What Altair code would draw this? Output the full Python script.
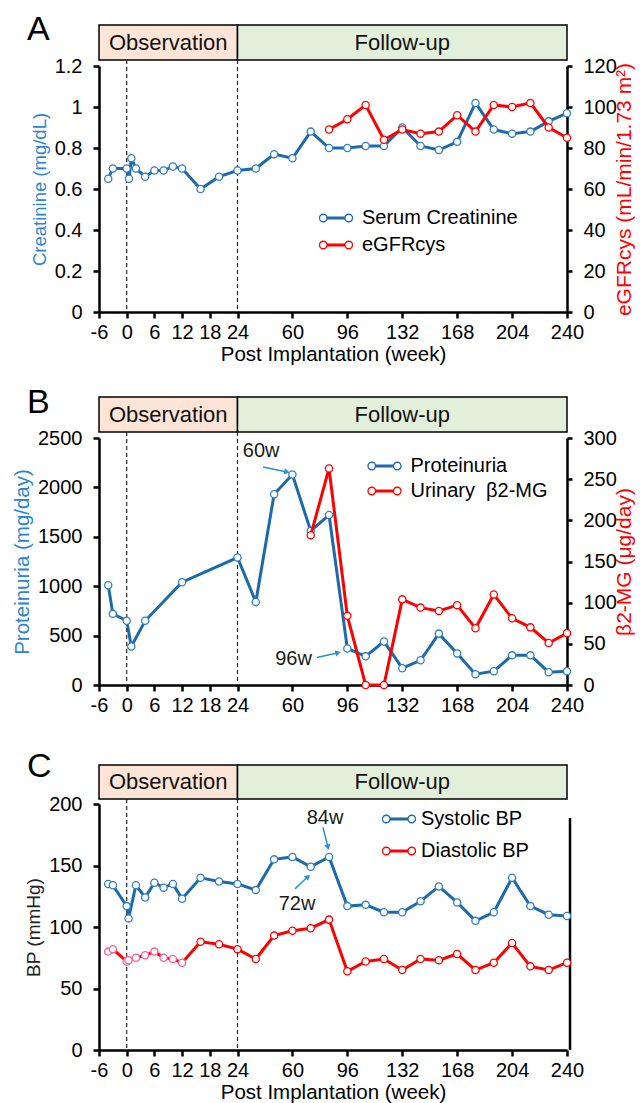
import altair as alt
import pandas as pd

# ---------------- data ----------------
wk_creat = [-4, -3, 0, 0.5, 1, 2, 4, 6, 8, 10, 12, 16, 20, 24,
            36, 48, 60, 72, 84, 96, 108, 120, 132, 144, 156, 168, 180, 192, 204, 216, 228, 240]
creat = [0.65, 0.70, 0.70, 0.65, 0.75, 0.70, 0.66, 0.69, 0.69, 0.71, 0.70, 0.60, 0.66, 0.69,
         0.70, 0.77, 0.75, 0.88, 0.80, 0.80, 0.81, 0.81, 0.90, 0.81, 0.79, 0.83, 1.02, 0.89,
         0.87, 0.88, 0.93, 0.97]
wk_egfr = [84, 96, 108, 120, 132, 144, 156, 168, 180, 192, 204, 216, 228, 240]
egfr = [89, 94, 101, 84, 89, 87, 88, 96, 88, 101, 100, 102, 90, 85]

wk_prot = [-4, -3, 0, 1, 4, 12, 24,
           36, 48, 60, 72, 84, 96, 108, 120, 132, 144, 156, 168, 180, 192, 204, 216, 228, 240]
prot = [1010, 720, 650, 390, 650, 1040, 1290,
        840, 1930, 2130, 1560, 1720, 370, 290, 440, 170, 250, 520, 320, 110, 140, 300, 300, 130, 140]
wk_b2 = [72, 84, 96, 108, 120, 132, 144, 156, 168, 180, 192, 204, 216, 228, 240]
b2mg = [182, 263, 84, 0, 0, 104, 94, 90, 97, 69, 110, 81, 70, 51, 63]

wk_bp = [-4, -3, 0, 0.4, 2, 4, 6, 8, 10, 12, 16, 20, 24,
         36, 48, 60, 72, 84, 96, 108, 120, 132, 144, 156, 168, 180, 192, 204, 216, 228, 240]
sbp = [135, 134, 117, 107, 134, 124, 136, 132, 135, 123, 140, 137, 135,
       130, 155, 157, 149, 157, 117, 118, 112, 112, 121, 133, 120, 105, 112, 140, 117, 110, 109]
dbp = [80, 82, 72, 73, 75, 77, 80, 75, 74, 71, 88, 86, 82,
       74, 93, 97, 99, 106, 64, 72, 74, 65, 74, 73, 78, 65, 71, 87, 68, 65, 71]

x_ticks = [-6, 0, 6, 12, 18, 24, 60, 96, 132, 168, 204, 240]
phase_names = ["Observation", "Follow-up"]
phase_start = [-6, 24]
phase_end = [24, 240]
phase_fill = ["#fce4d6", "#e2efda"]
marker_weeks = [0, 24]

# annotations (data coordinates)
annB_text = ["60w", "96w"]
annB_tx = [39.5, 60.7]
annB_ty = [2370, 266]
annB_x1 = [40.7, 76.1]
annB_y1 = [2207, 279]
annB_x2 = [56.4, 89.9]
annB_y2 = [2156, 327]
annB_ang = [12, 347]

annC_text = ["84w", "72w"]
annC_tx = [81.4, 63]
annC_ty = [189, 119]
annC_x1 = [80.0, 61.7]
annC_y1 = [181, 131]
annC_x2 = [83.3, 70.2]
annC_y2 = [165, 141]
annC_ang = [76, 317]

# ---------------- style ----------------
FONT = "Liberation Sans"
BLUE = "#1c6aab"
BLUE_MK = "#2f7fc4"
BLUE_TXT = "#2b86cf"
RED = "#ff0000"
PINK = "#ff5c95"
ARROW = "#2b8fd6"
W = 468
XS = alt.Scale(domain=[-6, 24, 240], range=[0, 138.5, W], nice=False, zero=False)
LEG_PATH = ("M -1.27 0 A 0.29 0.29 0 1 1 -0.69 0 A 0.29 0.29 0 1 1 -1.27 0 Z "
            "M 0.69 0 A 0.29 0.29 0 1 1 1.27 0 A 0.29 0.29 0 1 1 0.69 0 Z "
            "M -0.69 -0.07 L 0.69 -0.07 M -0.69 0 L 0.69 0 M -0.69 0.07 L 0.69 0.07")


def x_axis(title):
    kw = dict(values=x_ticks, labelExpr="'' + datum.value", labelFontSize=20, tickSize=6,
              labelPadding=4, labelOverlap=False, labelFlush=False, grid=False,
              domainWidth=2.5, tickWidth=2.5, domainColor="black", tickColor="black",
              labelColor="black", labelFont=FONT)
    if title:
        kw.update(title=title, titleFontSize=20.5, titlePadding=2, titleFontWeight="normal",
                  titleColor="black", titleFont=FONT)
    else:
        kw["title"] = None
    return alt.Axis(**kw)


def y_axis(title, values, orient, tcolor, tsize):
    kw = dict(values=values, labelExpr="'' + datum.value", labelFontSize=20, grid=False,
              domainWidth=2.5, tickWidth=2.5, domainColor="black", tickColor="black",
              labelColor="black", labelFont=FONT, title=title, titleFontSize=tsize,
              titleColor=tcolor, titleFontWeight="normal", titleLimit=600, titleFont=FONT,
              orient=orient)
    if orient == "left":
        kw.update(tickSize=6, labelPadding=11, titlePadding=5)
    else:
        kw.update(tickSize=5, labelPadding=11, titlePadding=-3, titleAngle=270,
                  titleBaseline="top")
    return alt.Axis(**kw)


def legend(lx, ly, rowpad, loff):
    return alt.Legend(orient="none", legendX=lx, legendY=ly, title=None, symbolType=LEG_PATH,
                      symbolSize=676, symbolStrokeWidth=1.3, symbolFillColor="white",
                      labelFontSize=20, labelFont=FONT, labelColor="black", labelOffset=loff,
                      labelLimit=400, rowPadding=rowpad, padding=0)


def sdf(weeks, vals, name, mcolors):
    return pd.DataFrame({"w": weeks, "v": vals, "s": name, "mc": mcolors})


def series(df, ysc, yax, xax, cscale, leg):
    line = alt.Chart(df).mark_line(strokeWidth=3).encode(
        x=alt.X("w:Q", scale=XS, axis=xax),
        y=alt.Y("v:Q", scale=ysc, axis=yax),
        color=alt.Color("s:N", scale=cscale, legend=leg),
    )
    pts = alt.Chart(df).mark_point(shape="circle", filled=True, fill="white", size=52,
                                   strokeWidth=1.3, opacity=1).encode(
        x=alt.X("w:Q", scale=XS, axis=xax),
        y=alt.Y("v:Q", scale=ysc, axis=yax),
        stroke=alt.Stroke("mc:N", scale=None),
    )
    return [line, pts]


def frame(letter, letter_y, hdr_top, hdr_bot, bottom, H, xax):
    hdr = pd.DataFrame({"phase": phase_names, "start": phase_start, "end": phase_end,
                        "fill": phase_fill})
    hdr["mid"] = (hdr["start"] + hdr["end"]) / 2
    spacer = alt.Chart(pd.DataFrame({"k": [0]})).mark_rule(color="white", strokeWidth=1).encode(
        x=alt.value(-90.5), y=alt.value(-57.5), y2=alt.value(bottom))
    rect = alt.Chart(hdr).mark_rect(stroke="black", strokeWidth=1.5).encode(
        x=alt.X("start:Q", scale=XS, axis=xax), x2="end:Q",
        y=alt.value(hdr_top), y2=alt.value(hdr_bot),
        fill=alt.Fill("fill:N", scale=None))
    htxt = alt.Chart(hdr).mark_text(fontSize=22, font=FONT, color="#111").encode(
        x=alt.X("mid:Q", scale=XS, axis=xax), y=alt.value((hdr_top + hdr_bot) / 2),
        text="phase:N")
    let = alt.Chart(pd.DataFrame({"t": [letter]})).mark_text(
        fontSize=34, font=FONT, align="left", baseline="alphabetic", color="black").encode(
        x=alt.value(-72), y=alt.value(letter_y), text="t:N")
    dashes = alt.Chart(pd.DataFrame({"w": marker_weeks})).mark_rule(
        strokeDash=[4, 3], strokeWidth=1.2, color="#222").encode(
        x=alt.X("w:Q", scale=XS, axis=xax), y=alt.value(hdr_bot), y2=alt.value(H))
    return [spacer, rect, htxt, let, dashes]


def annotations(txt, tx, ty, x1, y1, x2, y2, ang, ysc, xax, yax):
    tdf = pd.DataFrame({"t": txt, "tx": tx, "ty": ty})
    adf = pd.DataFrame({"ax": x1, "ay": y1, "bx": x2, "by": y2, "ang": ang})
    t = alt.Chart(tdf).mark_text(fontSize=20, font=FONT, color="#1a1a1a").encode(
        x=alt.X("tx:Q", scale=XS, axis=xax), y=alt.Y("ty:Q", scale=ysc, axis=yax), text="t:N")
    r = alt.Chart(adf).mark_rule(color=ARROW, strokeWidth=1.5).encode(
        x=alt.X("ax:Q", scale=XS, axis=xax), y=alt.Y("ay:Q", scale=ysc, axis=yax),
        x2="bx:Q", y2="by:Q")
    h = alt.Chart(adf).mark_point(shape="triangle-right", filled=True, size=40, color=ARROW,
                                  opacity=1).encode(
        x=alt.X("bx:Q", scale=XS, axis=xax), y=alt.Y("by:Q", scale=ysc, axis=yax),
        angle=alt.Angle("ang:Q", scale=None))
    return [t, r, h]


# ---------------- panel A ----------------
HA = 246
xaxA = x_axis("Post Implantation (week)")
csA = alt.Scale(domain=["Serum Creatinine", "eGFRcys"], range=[BLUE, RED])
legA = legend(223, 138, 3, 12)
ysA1 = alt.Scale(domain=[0, 1.2], nice=False)
ysA2 = alt.Scale(domain=[0, 120], nice=False)
yaxA1 = y_axis("Creatinine (mg/dL)", [0, 0.2, 0.4, 0.6, 0.8, 1, 1.2], "left", BLUE_TXT, 18.5)
yaxA2 = y_axis("eGFRcys (mL/min/1.73 m²)", [0, 20, 40, 60, 80, 100, 120], "right", RED, 21)
leftA = alt.layer(*series(sdf(wk_creat, creat, "Serum Creatinine", [BLUE_MK] * len(creat)),
                          ysA1, yaxA1, xaxA, csA, legA))
rightA = alt.layer(*series(sdf(wk_egfr, egfr, "eGFRcys", [RED] * len(egfr)),
                           ysA2, yaxA2, xaxA, csA, legA))
panelA = alt.layer(*frame("A", -26, -41, -6, 313.5, HA, xaxA), leftA, rightA).resolve_scale(
    y="independent").properties(width=W, height=HA)

# ---------------- panel B ----------------
HB = 247
xaxB = x_axis(None)
csB = alt.Scale(domain=["Proteinuria", "Urinary\u00a0 β2-MG"], range=[BLUE, RED])
legB = legend(271.5, 14, 1, 12)
ysB1 = alt.Scale(domain=[0, 2500], nice=False)
ysB2 = alt.Scale(domain=[0, 300], nice=False)
yaxB1 = y_axis("Proteinuria (mg/day)", [0, 500, 1000, 1500, 2000, 2500], "left", BLUE_TXT, 20.5)
yaxB2 = y_axis("β2-MG (μg/day)", [0, 50, 100, 150, 200, 250, 300], "right", RED, 21)
leftB = alt.layer(*series(sdf(wk_prot, prot, "Proteinuria", [BLUE_MK] * len(prot)),
                          ysB1, yaxB1, xaxB, csB, legB),
                  *annotations(annB_text, annB_tx, annB_ty, annB_x1, annB_y1, annB_x2, annB_y2,
                               annB_ang, ysB1, xaxB, yaxB1))
rightB = alt.layer(*series(sdf(wk_b2, b2mg, "Urinary\u00a0 β2-MG", [RED] * len(b2mg)),
                           ysB2, yaxB2, xaxB, csB, legB))
panelB = alt.layer(*frame("B", -25, -41, -6, 307.5, HB, xaxB), leftB, rightB).resolve_scale(
    y="independent").properties(width=W, height=HB)

# ---------------- panel C ----------------
HC = 246
xaxC = x_axis("Post Implantation (week)")
csC = alt.Scale(domain=["Systolic BP", "Diastolic BP"], range=[BLUE, RED])
legC = legend(286, 1, 8, 8)
ysC = alt.Scale(domain=[0, 200], nice=False)
yaxC = y_axis("BP (mmHg)", [0, 50, 100, 150, 200], "left", "#222222", 19)
dia_mk = [PINK] * 10 + [RED] * (len(dbp) - 10)
sys_layers = series(sdf(wk_bp, sbp, "Systolic BP", [BLUE_MK] * len(sbp)), ysC, yaxC, xaxC,
                    csC, legC)
dia_layers = series(sdf(wk_bp, dbp, "Diastolic BP", dia_mk), ysC, yaxC, xaxC, csC, legC)
right_line = alt.Chart(pd.DataFrame({"k": [0]})).mark_rule(color="black", strokeWidth=2.5).encode(
    x=alt.value(471), y=alt.value(14), y2=alt.value(HC))
panelC = alt.layer(*frame("C", -27, -39, -5, HC, HC, xaxC), right_line, *sys_layers, *dia_layers,
                   *annotations(annC_text, annC_tx, annC_ty, annC_x1, annC_y1, annC_x2, annC_y2,
                                annC_ang, ysC, xaxC, yaxC)).properties(width=W, height=HC)

chart = alt.vconcat(panelA, panelB, panelC, spacing=0).resolve_scale(
    color="independent"
).properties(
    padding={"left": 0, "top": 0, "right": 0, "bottom": 0}
).configure(font=FONT).configure_view(stroke=None)

chart.save("out.html", embed_options={"renderer": "svg", "actions": False})
